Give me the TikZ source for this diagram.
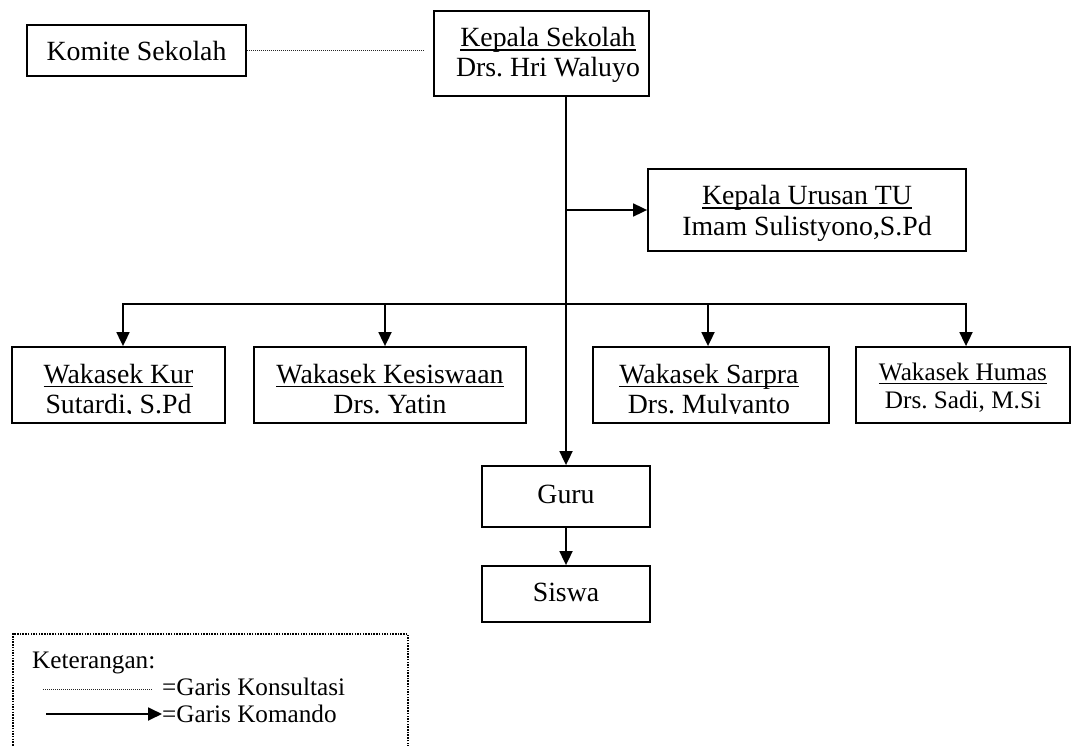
\documentclass[tikz,border=0pt]{standalone}
\usepackage{fontspec}
\setmainfont{Liberation Serif}
\usetikzlibrary{arrows.meta}
\frenchspacing
\newcommand\ulin[1]{\setbox0\hbox{#1}\rlap{\rule[-3.8pt]{\wd0}{1.3pt}}\box0}
\begin{document}
\begin{tikzpicture}[x=1pt,y=-1pt,
  box/.style={draw, line width=1.8pt, inner sep=0pt},
  txt/.style={inner sep=0pt, anchor=base, font=\fontsize{27.8}{31}\selectfont\frenchspacing},
  smalltxt/.style={inner sep=0pt, anchor=base, font=\fontsize{25.2}{29}\selectfont\frenchspacing},
  tip/.tip={Triangle[length=14pt,width=13pt]},
  komando/.style={line width=1.8pt, line join=miter, -tip},
  konsul/.style={line width=1pt, black!85, dash pattern=on 1pt off 1pt},
  legframe/.style={draw, line width=1.5pt, dash pattern=on 1.5pt off 1.2pt}]
\useasboundingbox (0,0) rectangle (1071,746);

% boxes
\node[box, minimum width=219pt, minimum height=51pt] (komite) at (136.5,50.5) {};
\node[box, minimum width=215pt, minimum height=85pt] (kepala) at (541.5,53.5) {};
\node[box, minimum width=318pt, minimum height=82pt] (tu) at (807,210) {};
\node[box, minimum width=213pt, minimum height=76pt] (kur) at (118.5,385) {};
\node[box, minimum width=272pt, minimum height=76pt] (kes) at (390,385) {};
\node[box, minimum width=236pt, minimum height=76pt] (sar) at (711,385) {};
\node[box, minimum width=214pt, minimum height=76pt] (hum) at (963,385) {};
\node[box, minimum width=168pt, minimum height=61pt] (guru) at (566,496.5) {};
\node[box, minimum width=168pt, minimum height=56pt] (siswa) at (566,594) {};

% texts
\node[txt] (komiteT) at (136.5,61) {Komite Sekolah};
\node[txt] (kepalaA) at (548,47) {\ulin{Kepala Sekolah}};
\node[txt] (kepalaB) at (548,77) {Drs. Hri Waluyo};
\node[txt] (tuA) at (807,205) {\ulin{Kepala Urusan TU}};
\node[txt] (tuB) at (807,236) {Imam Sulistyono,S.Pd};
\node[txt] (kurA) at (118.5,383) {\ulin{Wakasek Kur}};
\node[txt] (kesA) at (390,383) {\ulin{Wakasek Kesiswaan}};
\node[txt] (sarA) at (709,383) {\ulin{Wakasek Sarpra}};
\begin{scope}
\clip (kur.north west) rectangle ([yshift=10pt]sar.south east);
\node[txt] (kurB) at (118.5,413) {Sutardi, S.Pd};
\node[txt] (kesB) at (390,413) {Drs. Yatin};
\node[txt] (sarB) at (709,413) {Drs. Mulyanto};
\end{scope}
\node[smalltxt] (humA) at (963,380) {\ulin{Wakasek Humas}};
\node[smalltxt] (humB) at (963,408) {Drs. Sadi, M.Si};
\node[txt] (guruT) at (566,503) {Guru};
\node[txt] (siswaT) at (566,601) {Siswa};

% connectors
\coordinate (bar) at (566,304);
\draw[konsul] (komite.east) -- ([xshift=-9pt]komite.east -| kepala.west);
\draw[komando] (kepala.south -| guru.north) -- (guru.north);
\draw[komando] (tu.west -| guru.north) -- (tu.west);
\draw[line width=1.8pt, line join=miter, tip-tip] ([xshift=4.5pt]kur.north) -- ([xshift=4.5pt]kur.north |- bar) -- ([xshift=3pt]hum.north |- bar) -- ([xshift=3pt]hum.north);
\draw[komando] ([xshift=-5pt]kes.north |- bar) -- ([xshift=-5pt]kes.north);
\draw[komando] ([xshift=-3pt]sar.north |- bar) -- ([xshift=-3pt]sar.north);
\draw[komando] (guru.south) -- (siswa.north);

% legend
\node[legframe, minimum width=395pt, minimum height=150pt, anchor=north west] (legend) at (12,633) {};
\node[smalltxt, anchor=base west] (ket) at (32,668) {Keterangan:};
\coordinate (d1) at (43,689);
\coordinate (d2) at (153,689);
\draw[konsul] (d1) -- (d2);
\node[smalltxt, anchor=base west] (k1) at (162,695) {=Garis Konsultasi};
\node[smalltxt, anchor=base west] (k2) at (162,722) {=Garis Komando};
\coordinate (a1) at (46,714);
\draw[komando] (a1) -- (a1 -| k2.west);
\end{tikzpicture}
\end{document}
